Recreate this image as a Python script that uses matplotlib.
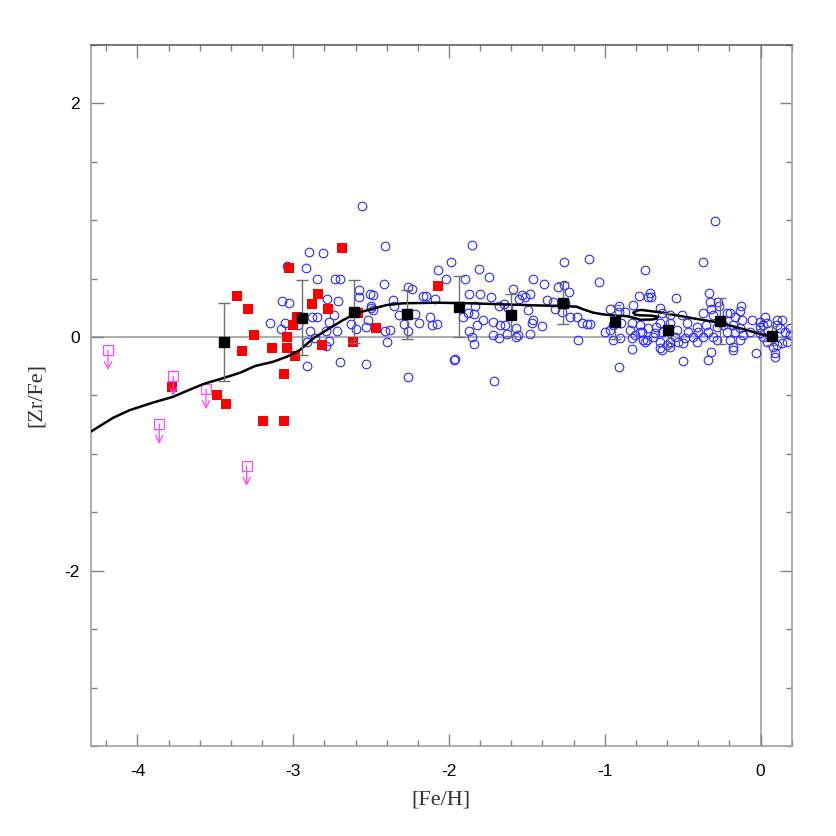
"""[Zr/Fe] vs [Fe/H]: наблюдения и модель химической эволюции"""
import numpy as np
import matplotlib.pyplot as plt

plt.rcParams['axes.unicode_minus'] = False

# --- данные -------------------------------------------------------------
# модельная кривая
model_feh = [-4.30, -4.155, -4.048, -3.898, -3.77, -3.706, -3.577, -3.47, -3.342,
             -3.245, -3.128, -3.042, -2.957, -2.871, -2.785, -2.679, -2.593, -2.507,
             -2.40, -2.294, -2.079, -1.865, -1.652, -1.437, -1.267, -1.181, -1.138,
             -1.074, -1.01, -0.935, -0.86, -0.80, -0.775, -0.70, -0.668, -0.657,
             -0.70, -0.77, -0.807, -0.817, -0.79, -0.764, -0.646, -0.432, -0.261,
             -0.09, 0.06]
model_zr = [-0.81, -0.69, -0.625, -0.56, -0.511, -0.474, -0.402, -0.36, -0.306,
            -0.248, -0.211, -0.169, -0.111, -0.011, 0.06, 0.146, 0.203, 0.237,
            0.274, 0.289, 0.294, 0.289, 0.28, 0.271, 0.265, 0.26, 0.237,
            0.209, 0.194, 0.183, 0.18, 0.16, 0.148, 0.15, 0.157, 0.174,
            0.183, 0.186, 0.192, 0.209, 0.228, 0.232, 0.212, 0.16, 0.123,
            0.06, 0.003]

# средние по бинам
bin_feh = [-3.444, -2.942, -2.608, -2.272, -1.938, -1.60, -1.267, -0.933, -0.597, -0.263, 0.075]
bin_zr = [-0.045, 0.165, 0.217, 0.194, 0.26, 0.186, 0.294, 0.126, 0.06, 0.137, 0.011]
bin_err = [0.335, 0.32, 0.27, 0.21, 0.26, 0.18, 0.18, 0.145, 0.145, 0.20, 0.08]

# звёзды гало (красные квадраты)
halo_feh = [-3.359, -3.288, -3.25, -3.329, -3.138, -3.038, -3.038, -3.029, -2.989, -2.999,
            -2.974, -2.878, -2.84, -2.779, -2.817, -2.689, -2.618, -2.586, -2.471, -3.059,
            -3.78, -3.487, -3.432, -3.192, -3.059, -2.069]
halo_zr = [0.354, 0.237, 0.015, -0.117, -0.097, 0.003, -0.097, 0.588, -0.163, 0.103,
           0.174, 0.282, 0.366, 0.237, -0.066, 0.765, -0.045, 0.203, 0.074, -0.317,
           -0.425, -0.497, -0.574, -0.717, -0.717, 0.437]

# верхние пределы
lim_feh = [-4.189, -3.77, -3.56, -3.86, -3.299]
lim_zr = [-0.114, -0.334, -0.448, -0.745, -1.104]

# звёзды диска (синие кружки)
disk_feh = [
    # [Fe/H] < -2.5
    -2.56, -2.90, -2.81, -3.04, -2.92, -2.85, -2.73, -2.70, -2.58, -2.51,
    -2.58, -3.07, -3.03, -2.78, -2.71, -2.50, -2.49, -3.15, -3.05, -3.08,
    -2.97, -2.88, -2.85, -2.74, -2.77, -2.52, -2.53, -2.89, -2.79, -2.72,
    -2.63, -2.60, -2.86, -2.91, -2.77, -2.79, -2.70, -2.91, -2.53,
    # -2.5 .. -1.3
    -2.41, -1.85, -1.99, -2.07, -1.81, -2.02, -1.90, -1.74, -1.46, -2.42,
    -2.26, -2.24, -1.39, -1.30, -1.59, -2.09, -2.17, -2.15, -1.80, -1.73,
    -2.36, -2.49, -2.50, -2.35, -2.32, -2.22, -2.12, -2.19, -2.11, -2.08,
    -2.29, -2.26, -2.41, -2.38, -2.40, -1.87, -1.83, -1.84, -1.82, -1.78,
    -1.87, -1.85, -1.84, -1.91, -1.88, -1.72, -1.67, -1.64, -1.68, -1.65,
    -1.62, -1.57, -1.57, -1.555, -1.625, -1.68, -1.72, -1.48, -1.48, -1.53,
    -1.55, -1.51, -1.49, -1.46, -1.47, -1.40, -1.37, -1.33, -1.32, -2.26,
    -1.71, -1.97, -1.96,
    # выбросы справа
    -1.26, -1.10, -0.29, -0.37, -0.74,
    # [Fe/H] > -1.3
    -1.04, -0.71, -0.70, -0.72, -0.78, -0.54, -0.33, -1.26, -1.23, -0.325,
    -0.276, -0.265, -0.126, -0.133, -1.256, -1.277, -0.82, -0.91, -0.967, -0.91,
    -0.867, -0.646, -0.635, -0.582, -0.507, -0.368, -0.315, -0.304, -0.218, -0.197,
    -0.165, -0.122, -0.058, -0.004, 0.028, 0.039, 0.103, 0.135, -1.224, -1.181,
    -1.149, -1.117, -1.095, -0.999, -0.946, -0.967, -0.897, -0.828, -0.839, -0.775,
    -0.775, -0.721, -0.668, -0.646, -0.635, -0.582, -0.539, -0.475, -0.464, -0.411,
    -0.40, -0.347, -0.336, -0.282, -0.24, -0.218, -0.176, -0.165, -0.133, -0.111,
    -0.069, -0.004, 0.017, 0.103, 0.124, 0.156, 0.188, 0.188, 0.167, 0.135,
    0.103, 0.081, 0.039, 0.017, -0.004, -0.133, -0.197, -0.176, -0.282, -0.304,
    -0.368, -0.411, -0.432, -0.486, -0.496, -0.528, -0.55, -0.582, -0.603, -0.646,
    -0.646, -0.678, -0.689, -0.732, -0.753, -0.764, -0.807, -0.828, -0.903, -0.946,
    -1.17, -0.822, -0.742, -0.635, -0.582, -0.315, -0.336, -0.496, -0.176, -0.026,
    0.092, 0.092, -0.909]
disk_zr = [
    1.12, 0.73, 0.72, 0.61, 0.59, 0.50, 0.50, 0.50, 0.40, 0.37,
    0.34, 0.31, 0.29, 0.33, 0.31, 0.27, 0.23, 0.12, 0.12, 0.07,
    0.10, 0.17, 0.17, 0.19, 0.13, 0.15, 0.09, 0.05, 0.05, 0.05,
    0.11, 0.07, -0.01, -0.04, -0.03, -0.08, -0.21, -0.25, -0.23,
    0.78, 0.79, 0.64, 0.57, 0.58, 0.50, 0.50, 0.51, 0.50, 0.45,
    0.43, 0.41, 0.45, 0.43, 0.41, 0.33, 0.35, 0.35, 0.37, 0.34,
    0.32, 0.36, 0.25, 0.27, 0.19, 0.20, 0.17, 0.12, 0.10, 0.11,
    0.11, 0.05, 0.05, 0.06, -0.04, 0.37, 0.27, 0.20, 0.10, 0.15,
    0.05, 0.00, -0.06, 0.17, 0.21, 0.13, 0.10, 0.10, 0.27, 0.28,
    0.25, 0.08, 0.00, 0.02, 0.03, -0.01, 0.02, 0.026, 0.37, 0.36,
    0.33, 0.34, 0.23, 0.15, 0.12, 0.094, 0.32, 0.30, 0.237, -0.345,
    -0.374, -0.20, -0.19,
    0.64, 0.67, 0.99, 0.64, 0.57,
    0.47, 0.38, 0.346, 0.346, 0.354, 0.334, 0.374, 0.446, 0.383, 0.303,
    0.303, 0.266, 0.266, 0.226, 0.289, 0.217, 0.274, 0.266, 0.237, 0.217,
    0.217, 0.246, 0.203, 0.189, 0.189, 0.203, 0.237, 0.189, 0.209, 0.203,
    0.174, 0.146, 0.146, 0.132, 0.174, 0.117, 0.146, 0.146, 0.174, 0.174,
    0.117, 0.109, 0.112, 0.046, 0.103, 0.06, 0.117, 0.117, 0.06, 0.103,
    0.046, 0.074, 0.089, 0.117, 0.046, 0.117, 0.06, 0.117, 0.046, 0.089,
    0.046, 0.103, 0.046, 0.089, 0.103, 0.046, 0.103, 0.046, 0.074, 0.017,
    0.046, 0.089, 0.103, 0.103, 0.074, 0.046, 0.074, 0.017, -0.04, -0.054,
    -0.068, -0.082, -0.04, 0.003, 0.032, -0.025, -0.025, -0.111, -0.025, 0.003,
    0.003, -0.04, 0.003, -0.011, -0.054, -0.04, 0.003, -0.04, -0.068, -0.04,
    -0.097, 0.032, 0.003, -0.025, -0.025, 0.046, 0.017, -0.011, -0.011, -0.025,
    -0.025, -0.102, -0.04, -0.111, -0.082, -0.125, -0.197, -0.202, -0.082, -0.14,
    -0.168, -0.14, -0.259]

X_TICKS = [-4, -3, -2, -1, 0]
Y_TICKS = [-2, 0, 2]
X_MINOR = np.arange(-4.2, 0.21, 0.2)
Y_MINOR = np.arange(-3.5, 2.51, 0.5)

BLUE = '#2a2aff'
MAGENTA = '#ff44ff'
LIGHT = '#a8a8a8'


def create_plot(filename='out.png'):
    fig = plt.figure(figsize=(8.36, 8.36), dpi=100)
    ax = fig.add_axes([0.1085, 0.1077, 0.8385, 0.8385])

    ax.set_xlim(-4.3, 0.2)
    ax.set_ylim(-3.5, 2.5)

    # нулевые линии
    ax.axhline(0, color=LIGHT, lw=1.3, zorder=1)
    ax.axvline(0, color=LIGHT, lw=1.3, zorder=1)

    ax.plot(disk_feh, disk_zr, 'o', mfc='none', mec=BLUE, ms=6.2, mew=0.8, zorder=2)
    ax.plot(halo_feh, halo_zr, 's', color='red', ms=6.8, mew=0, zorder=3)

    # верхние пределы: пустой квадрат + стрелка вниз
    ax.plot(lim_feh, lim_zr, 's', mfc='none', mec=MAGENTA, ms=6.5, mew=0.9, zorder=3)
    for x, y in zip(lim_feh, lim_zr):
        ax.annotate('', xy=(x, y - 0.17), xytext=(x, y),
                    arrowprops=dict(arrowstyle='->', color=MAGENTA, lw=0.9,
                                    shrinkA=0, shrinkB=0, mutation_scale=13),
                    zorder=3)

    ax.plot(model_feh, model_zr, '-', color='black', lw=1.8, zorder=4)

    ax.errorbar(bin_feh, bin_zr, yerr=bin_err, fmt='s', color='black', ms=6.8,
                ecolor='#707070', elinewidth=1.0, capsize=4.3, capthick=1.0, zorder=5)

    # оформление осей
    ax.set_xticks(X_TICKS)
    ax.set_yticks(Y_TICKS)
    ax.set_xticks(X_MINOR, minor=True)
    ax.set_yticks(Y_MINOR, minor=True)
    ax.tick_params(which='both', direction='in', top=True, right=True, color='#808080',
                   labelsize=12.5, labelfontfamily='Liberation Sans')
    ax.tick_params(which='major', length=9, width=1.0, pad=13)
    ax.tick_params(which='minor', length=4.5, width=1.0)
    ax.tick_params(axis='y', which='major', pad=8)

    for side in ['left', 'right', 'bottom']:
        ax.spines[side].set_color('#a0a0a0')
        ax.spines[side].set_linewidth(1.2)
    ax.spines['top'].set_color('#606060')
    ax.spines['top'].set_linewidth(1.2)

    ax.set_xlabel('[Fe/H]', fontsize=16, family='Liberation Serif', color='#333333')
    ax.set_ylabel('[Zr/Fe]', fontsize=16, family='Liberation Serif', color='#333333')
    ax.xaxis.set_label_coords(0.5, -0.077)
    ax.xaxis.label.set_va('center')
    ax.yaxis.set_label_coords(-0.078, 0.5)
    ax.yaxis.label.set_va('center')

    fig.savefig(filename, dpi=100)
    plt.close(fig)


if __name__ == '__main__':
    create_plot()
